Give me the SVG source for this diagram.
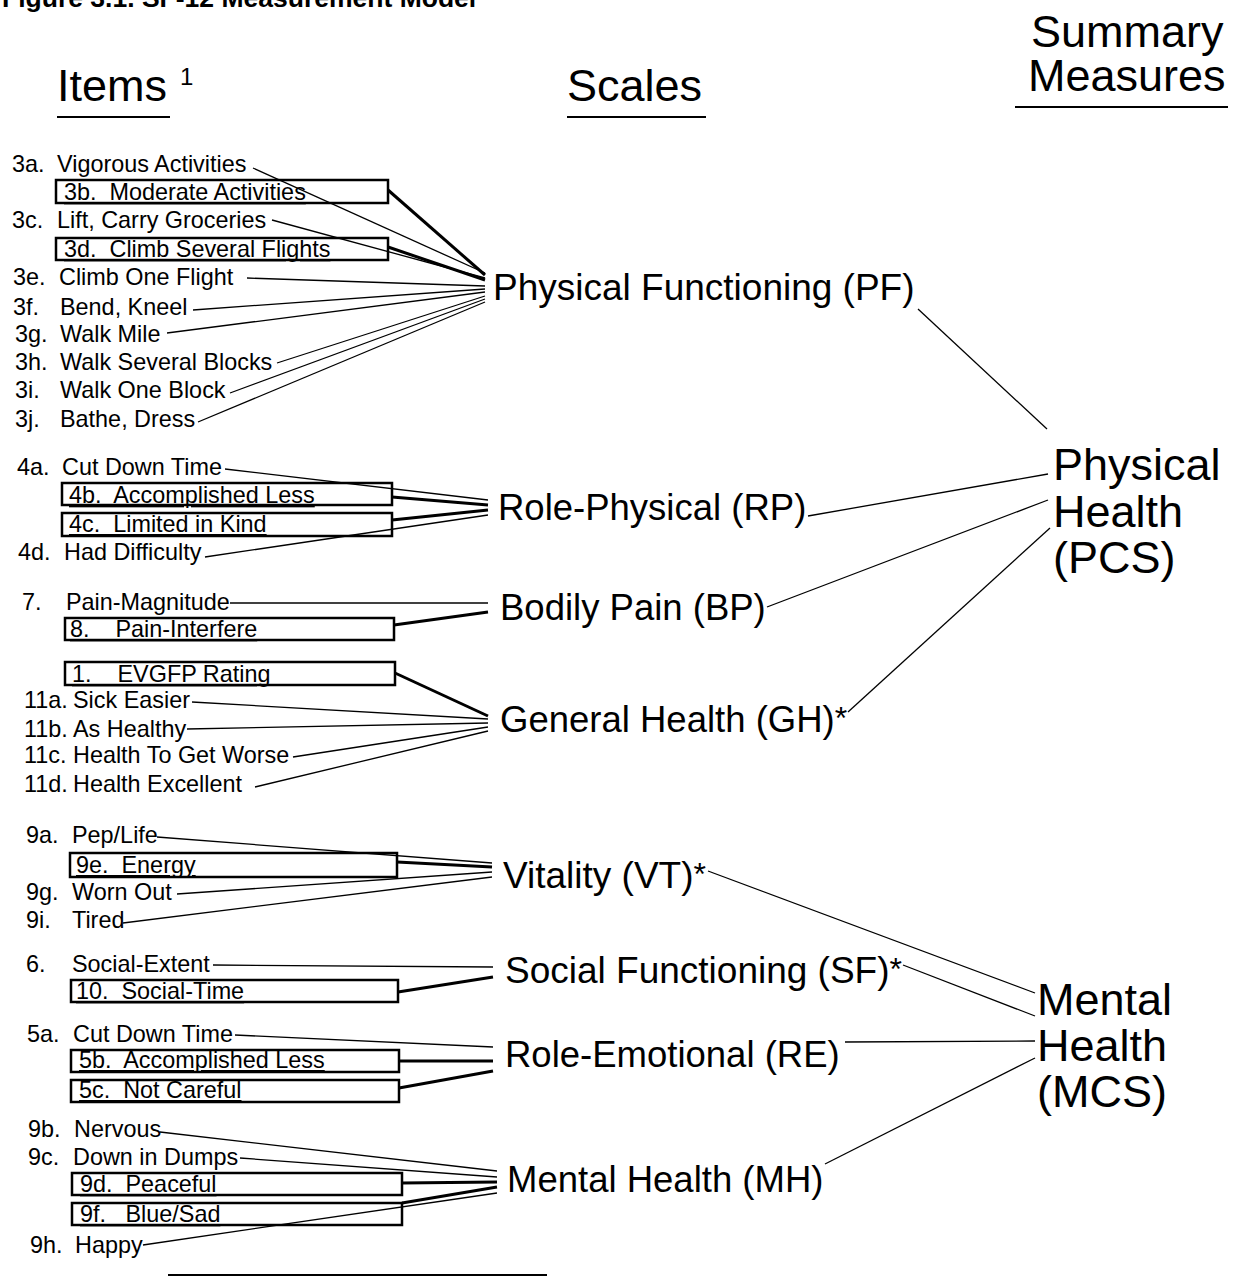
<svg xmlns="http://www.w3.org/2000/svg" width="1238" height="1277" viewBox="0 0 1238 1277">
<style>
text{font-family:"Liberation Sans",Arial,Helvetica,sans-serif;fill:#000}
.title{font-size:26.5px;font-weight:bold}
.head{font-size:45px}
.sup{font-size:24px}
.item{font-size:23.4px}
.bt{font-size:23.4px;text-decoration:underline}
.box{fill:none;stroke:#000;stroke-width:2.5}
.scale{font-size:36.5px}
.big{font-size:37px}
.sum{font-size:45px}
.ast{font-size:32px}
.thin{stroke:#000;stroke-width:1.3;fill:none}
.thick{stroke:#000;stroke-width:3;fill:none}
.rule{stroke:#000;stroke-width:2}
</style>
<rect width="1238" height="1277" fill="#fff"/>
<text class="title" x="2" y="7">Figure 3.1. SF-12 Measurement Model</text>
<g id="headers">
<text class="head" x="57" y="101">Items</text><text class="sup" x="180" y="85">1</text>
<line class="rule" x1="57" y1="117" x2="170" y2="117"/>
<text class="head" x="567" y="101">Scales</text>
<line class="rule" x1="567" y1="117" x2="706" y2="117"/>
<text class="head" x="1031" y="47">Summary</text>
<text class="head" x="1028" y="91">Measures</text>
<line class="rule" x1="1015" y1="107" x2="1228" y2="107"/>
</g>
<g id="connectors">
<line class="thin" x1="253" y1="168" x2="485" y2="273"/>
<line class="thick" x1="388" y1="190" x2="485" y2="275"/>
<line class="thin" x1="272" y1="220" x2="485" y2="278"/>
<line class="thick" x1="388" y1="247" x2="485" y2="280"/>
<line class="thin" x1="247" y1="278" x2="485" y2="286"/>
<line class="thin" x1="193" y1="310" x2="485" y2="289"/>
<line class="thin" x1="167" y1="333" x2="485" y2="292"/>
<line class="thin" x1="277" y1="363" x2="485" y2="296"/>
<line class="thin" x1="230" y1="393" x2="485" y2="299"/>
<line class="thin" x1="198" y1="422" x2="485" y2="302"/>
<line class="thin" x1="225" y1="469" x2="488" y2="500"/>
<line class="thick" x1="392" y1="497" x2="488" y2="505"/>
<line class="thick" x1="392" y1="520" x2="488" y2="510"/>
<line class="thin" x1="205" y1="557" x2="488" y2="515"/>
<line class="thin" x1="230" y1="603" x2="488" y2="603"/>
<line class="thick" x1="394" y1="625" x2="488" y2="612"/>
<line class="thick" x1="395" y1="673" x2="488" y2="716"/>
<line class="thin" x1="192" y1="702" x2="488" y2="719"/>
<line class="thin" x1="187" y1="729" x2="488" y2="723"/>
<line class="thin" x1="293" y1="757" x2="488" y2="727"/>
<line class="thin" x1="255" y1="787" x2="488" y2="731"/>
<line class="thin" x1="157" y1="837" x2="492" y2="863"/>
<line class="thick" x1="397" y1="862" x2="492" y2="867"/>
<line class="thin" x1="177" y1="894" x2="492" y2="872"/>
<line class="thin" x1="123" y1="923" x2="492" y2="877"/>
<line class="thin" x1="213" y1="965" x2="493" y2="967"/>
<line class="thick" x1="398" y1="992" x2="493" y2="977"/>
<line class="thin" x1="235" y1="1035" x2="493" y2="1047"/>
<line class="thick" x1="399" y1="1061" x2="493" y2="1061"/>
<line class="thick" x1="399" y1="1088" x2="493" y2="1071"/>
<line class="thin" x1="160" y1="1132" x2="497" y2="1171"/>
<line class="thin" x1="240" y1="1158" x2="497" y2="1177"/>
<line class="thick" x1="402" y1="1183" x2="497" y2="1182"/>
<line class="thick" x1="402" y1="1203" x2="497" y2="1187"/>
<line class="thin" x1="143" y1="1245" x2="497" y2="1193"/>
<line class="thin" x1="918" y1="309" x2="1047" y2="429"/>
<line class="thin" x1="808" y1="516" x2="1048" y2="474"/>
<line class="thin" x1="767" y1="607" x2="1048" y2="500"/>
<line class="thin" x1="848" y1="712" x2="1050" y2="528"/>
<line class="thin" x1="708" y1="871" x2="1035" y2="993"/>
<line class="thin" x1="903" y1="965" x2="1035" y2="1016"/>
<line class="thin" x1="845" y1="1042" x2="1035" y2="1041"/>
<line class="thin" x1="825" y1="1164" x2="1035" y2="1058"/>
</g>
<g id="item-3a"><text class="item" x="12" y="172">3a.</text><text class="item" x="57" y="172">Vigorous Activities</text></g>
<g id="item-3b"><rect class="box" x="56" y="180" width="332" height="23"/><text class="bt" x="64" y="200" xml:space="preserve">3b.  Moderate Activities</text></g>
<g id="item-3c"><text class="item" x="12" y="228">3c.</text><text class="item" x="57" y="228">Lift, Carry Groceries</text></g>
<g id="item-3d"><rect class="box" x="56" y="238" width="332" height="22"/><text class="bt" x="64" y="257" xml:space="preserve">3d.  Climb Several Flights</text></g>
<g id="item-3e"><text class="item" x="13" y="285">3e.</text><text class="item" x="59" y="285">Climb One Flight</text></g>
<g id="item-3f"><text class="item" x="13" y="315">3f.</text><text class="item" x="60" y="315">Bend, Kneel</text></g>
<g id="item-3g"><text class="item" x="15" y="342">3g.</text><text class="item" x="60" y="342">Walk Mile</text></g>
<g id="item-3h"><text class="item" x="15" y="370">3h.</text><text class="item" x="60" y="370">Walk Several Blocks</text></g>
<g id="item-3i"><text class="item" x="15" y="398">3i.</text><text class="item" x="60" y="398">Walk One Block</text></g>
<g id="item-3j"><text class="item" x="15" y="427">3j.</text><text class="item" x="60" y="427">Bathe, Dress</text></g>
<g id="item-4a"><text class="item" x="17" y="475">4a.</text><text class="item" x="62" y="475">Cut Down Time</text></g>
<g id="item-4b"><rect class="box" x="62" y="483" width="330" height="22"/><text class="bt" x="69" y="503" xml:space="preserve">4b.  Accomplished Less</text></g>
<g id="item-4c"><rect class="box" x="62" y="513" width="330" height="23"/><text class="bt" x="69" y="532" xml:space="preserve">4c.  Limited in Kind</text></g>
<g id="item-4d"><text class="item" x="18" y="560">4d.</text><text class="item" x="64" y="560">Had Difficulty</text></g>
<g id="item-7"><text class="item" x="22" y="610">7.</text><text class="item" x="66" y="610">Pain-Magnitude</text></g>
<g id="item-8"><rect class="box" x="65" y="618" width="329" height="22"/><text class="bt" x="70" y="637" xml:space="preserve">8.    Pain-Interfere</text></g>
<g id="item-1"><rect class="box" x="65" y="662" width="330" height="23"/><text class="bt" x="72" y="682" xml:space="preserve">1.    EVGFP Rating</text></g>
<g id="item-11a"><text class="item" x="24" y="708">11a.</text><text class="item" x="73" y="708">Sick Easier</text></g>
<g id="item-11b"><text class="item" x="24" y="737">11b.</text><text class="item" x="73" y="737">As Healthy</text></g>
<g id="item-11c"><text class="item" x="24" y="763">11c.</text><text class="item" x="73" y="763">Health To Get Worse</text></g>
<g id="item-11d"><text class="item" x="24" y="792">11d.</text><text class="item" x="73" y="792">Health Excellent</text></g>
<g id="item-9a"><text class="item" x="26" y="843">9a.</text><text class="item" x="72" y="843">Pep/Life</text></g>
<g id="item-9e"><rect class="box" x="70" y="853" width="327" height="24"/><text class="bt" x="76" y="873" xml:space="preserve">9e.  Energy</text></g>
<g id="item-9g"><text class="item" x="26" y="900">9g.</text><text class="item" x="72" y="900">Worn Out</text></g>
<g id="item-9i"><text class="item" x="26" y="928">9i.</text><text class="item" x="72" y="928">Tired</text></g>
<g id="item-6"><text class="item" x="26" y="972">6.</text><text class="item" x="72" y="972">Social-Extent</text></g>
<g id="item-10"><rect class="box" x="71" y="980" width="327" height="22"/><text class="bt" x="76" y="999" xml:space="preserve">10.  Social-Time</text></g>
<g id="item-5a"><text class="item" x="27" y="1042">5a.</text><text class="item" x="73" y="1042">Cut Down Time</text></g>
<g id="item-5b"><rect class="box" x="71" y="1050" width="328" height="22"/><text class="bt" x="79" y="1068" xml:space="preserve">5b.  Accomplished Less</text></g>
<g id="item-5c"><rect class="box" x="71" y="1080" width="328" height="22"/><text class="bt" x="79" y="1098" xml:space="preserve">5c.  Not Careful</text></g>
<g id="item-9b"><text class="item" x="28" y="1137">9b.</text><text class="item" x="74" y="1137">Nervous</text></g>
<g id="item-9c"><text class="item" x="28" y="1165">9c.</text><text class="item" x="73" y="1165">Down in Dumps</text></g>
<g id="item-9d"><rect class="box" x="72" y="1173" width="330" height="22"/><text class="bt" x="80" y="1192" xml:space="preserve">9d.  Peaceful</text></g>
<g id="item-9f"><rect class="box" x="72" y="1203" width="330" height="22"/><text class="bt" x="80" y="1222" xml:space="preserve">9f.   Blue/Sad</text></g>
<g id="item-9h"><text class="item" x="30" y="1253">9h.</text><text class="item" x="75" y="1253">Happy</text></g>
<g id="scale-PF"><text class="big" x="493" y="300">Physical Functioning (PF)</text></g>
<g id="scale-RP"><text class="scale" x="498" y="520">Role-Physical (RP)</text></g>
<g id="scale-BP"><text class="scale" x="500" y="620">Bodily Pain (BP)</text></g>
<g id="scale-GH"><text class="scale" x="500" y="732">General Health (GH)<tspan class="ast" dy="-3">*</tspan></text></g>
<g id="scale-VT"><text class="big" x="503" y="888">Vitality (VT)<tspan class="ast" dy="-3">*</tspan></text></g>
<g id="scale-SF"><text class="big" x="505" y="983">Social Functioning (SF)<tspan class="ast" dy="-3">*</tspan></text></g>
<g id="scale-RE"><text class="scale" x="505" y="1067">Role-Emotional (RE)</text></g>
<g id="scale-MH"><text class="scale" x="507" y="1192">Mental Health (MH)</text></g>
<g id="summary-PCS"><text class="sum" x="1053" y="480">Physical</text><text class="sum" x="1053" y="527">Health</text><text class="sum" x="1053" y="573">(PCS)</text></g>
<g id="summary-MCS"><text class="sum" x="1037" y="1015">Mental</text><text class="sum" x="1037" y="1061">Health</text><text class="sum" x="1037" y="1107">(MCS)</text></g>
<line class="rule" x1="168" y1="1275" x2="547" y2="1275"/>
</svg>
